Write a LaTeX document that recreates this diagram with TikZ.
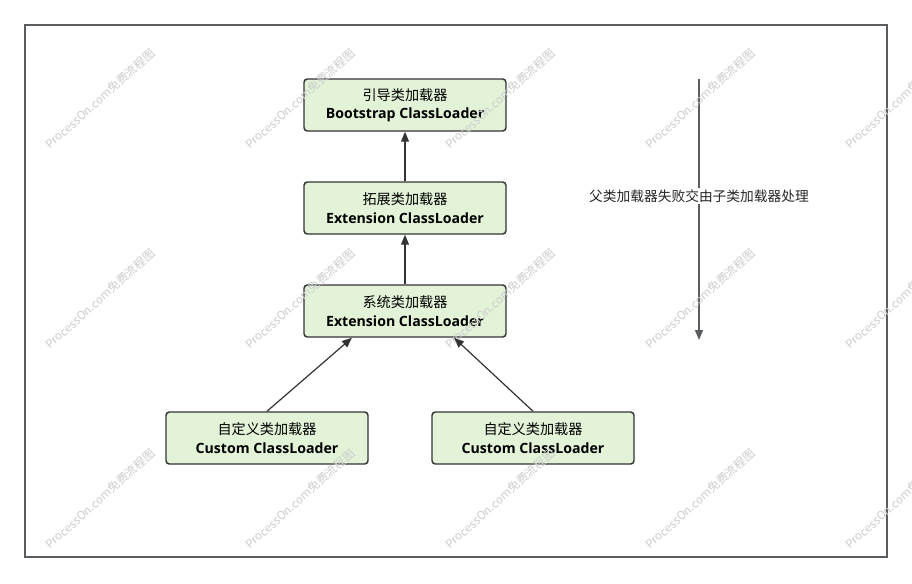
\documentclass[tikz,border=0pt]{standalone}
\usepackage{fontspec}
\setmainfont{Open Sans}
\newfontfamily\cjk{Noto Sans CJK SC}
\usetikzlibrary{arrows.meta}
\definecolor{boxfill}{HTML}{E2F3D8}
\definecolor{boxline}{HTML}{333333}
\definecolor{framecol}{HTML}{5A5D60}
\definecolor{wm}{HTML}{CDCDCD}
\tikzset{
  loader/.style={draw=boxline, fill=boxfill, line width=1.1pt, rounded corners=2.5pt,
    minimum width=151.5pt, minimum height=39pt, align=center, inner sep=0pt,
    font=\fontsize{10.6}{13.2}\selectfont},
  conn/.style={draw=boxline, line width=0.9pt, -{Triangle[length=7.5pt,width=6pt]}},
  flow/.style={draw=framecol, line width=1.1pt, -{Triangle[length=7.5pt,width=6pt]}},
  wmark/.style={text=wm, rotate=42, font=\cjk\fontsize{8.7}{10}\selectfont, inner sep=0pt}
}
\newcommand{\ldr}[2]{{\cjk #1}\\[0.5pt]\textbf{#2}}
\begin{document}
\begin{tikzpicture}[x=0.75pt,y=-0.75pt]
\useasboundingbox (0,0) rectangle (912,583);
\fill[white] (0,0) rectangle (912,583);
\draw[framecol, line width=1.5pt] (25,25) rectangle (887,557);

\node[loader] (boot) at (405,105) {\ldr{引导类加载器}{Bootstrap ClassLoader}};
\node[loader] (ext) at (405,208) {\ldr{拓展类加载器}{Extension ClassLoader}};
\node[loader] (sys) at (405,311) {\ldr{系统类加载器}{Extension ClassLoader}};
\node[loader] (c1) at (267,438) {\ldr{自定义类加载器}{Custom ClassLoader}};
\node[loader] (c2) at (533,438) {\ldr{自定义类加载器}{Custom ClassLoader}};

\draw[conn] (ext.north) -- (boot.south);
\draw[conn] (sys.north) -- (ext.south);
\draw[conn] (c1.north) -- ([xshift=-39.75pt]sys.south);
\draw[conn] (c2.north) -- ([xshift=36.75pt]sys.south);

\coordinate (ftop) at (699,79);
\coordinate (fbot) at (699,340);
\draw[flow] (ftop) -- (fbot) node[pos=0.448, fill=white, inner sep=1.5pt, text=black!85,
  font=\cjk\fontsize{10.3}{12}\selectfont] (flabel) {父类加载器失败交由子类加载器处理};

\foreach \i in {0,...,4} {
  \foreach \j in {0,1,2} {
    \node[wmark] at (100+200*\i, 99+200*\j) {ProcessOn.com免费流程图};
  }
}
\end{tikzpicture}
\end{document}
